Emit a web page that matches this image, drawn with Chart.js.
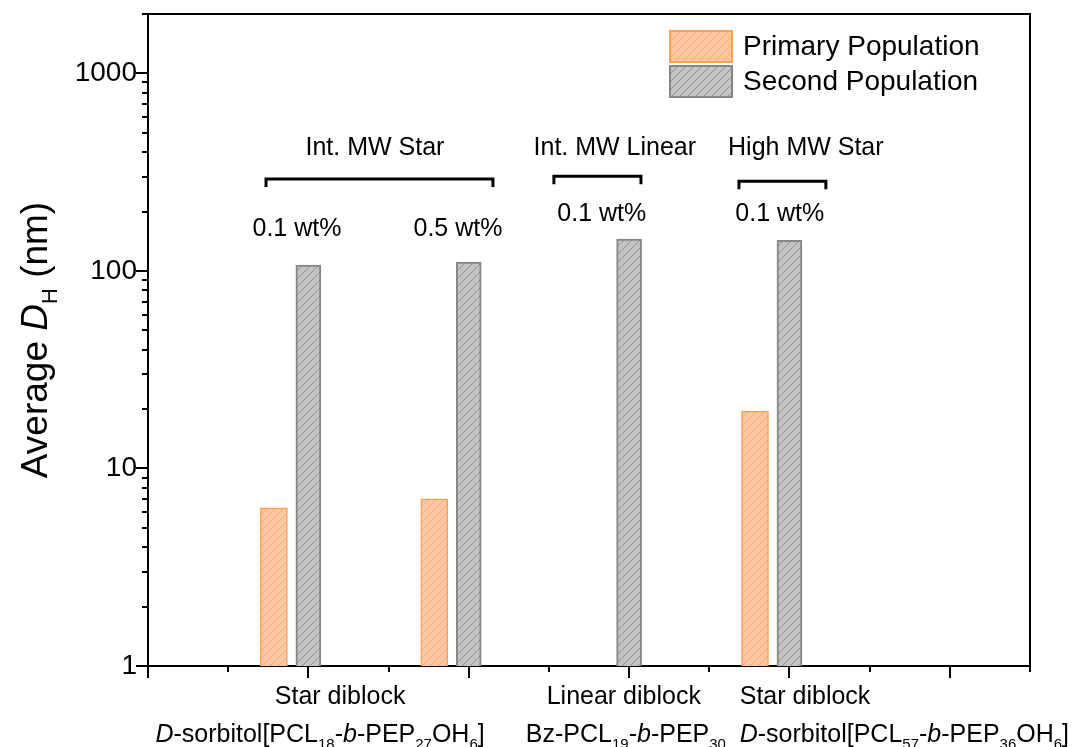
<!DOCTYPE html>
<html>
<head>
<meta charset="utf-8">
<script src="https://cdn.jsdelivr.net/npm/chart.js@4/dist/chart.umd.min.js"></script>
<style>
  html, body { margin: 0; padding: 0; background: #ffffff; }
  #wrap { width: 1073px; height: 747px; position: relative; }
</style>
</head>
<body>
<div id="wrap"><canvas id="chart" width="1073" height="747"></canvas></div>
<script>
// ---- data ----
const groupPositions = [1, 2, 3, 4];
const primaryPopulation = [6.33, 7.03, null, 19.5];
const secondPopulation = [107, 111, 145, 143];
const seriesNames = ['Primary Population', 'Second Population'];
const yMajorTicks = [1, 10, 100, 1000];
const concentrationLabels = ['0.1 wt%', '0.5 wt%', '0.1 wt%', '0.1 wt%'];
const architectureLabels = ['Int. MW Star', 'Int. MW Linear', 'High MW Star'];

// sample names: plain, italic and subscript runs
const sampleNames = [
  [[{ t: 'Star diblock' }],
   [{ t: 'D', it: true }, { t: '-sorbitol[PCL' }, { t: '18', sub: true }, { t: '-' }, { t: 'b', it: true },
    { t: '-PEP' }, { t: '27', sub: true }, { t: 'OH' }, { t: '6', sub: true }, { t: ']' }]],
  [[{ t: 'Linear diblock' }],
   [{ t: 'Bz-PCL' }, { t: '19', sub: true }, { t: '-' }, { t: 'b', it: true }, { t: '-PEP' }, { t: '30', sub: true }]],
  [[{ t: 'Star diblock' }],
   [{ t: 'D', it: true }, { t: '-sorbitol[PCL' }, { t: '57', sub: true }, { t: '-' }, { t: 'b', it: true },
    { t: '-PEP' }, { t: '36', sub: true }, { t: 'OH' }, { t: '6', sub: true }, { t: ']' }]]
];
const yTitle = [{ t: 'Average ' }, { t: 'D', it: true }, { t: 'H', sub: true }, { t: ' (nm)' }];

// ---- layout / style ----
const FONT = '"Liberation Sans", Arial, Helvetica, sans-serif';
const PRIMARY_SHIFT = -0.215;          // primary bar sits left of its group position
const X_MIN = 0, X_MAX = 5.5, Y_MIN = 1, Y_MAX = 2000;
const MAJOR_TICK = 12, MINOR_TICK = 6, AXIS_W = 2;

// annotation anchors in axis units (x) and nm (y)
const brackets = [
  { x0: 0.736, x1: 2.151, y: 292 },
  { x0: 2.531, x1: 3.074, y: 302 },
  { x0: 3.685, x1: 4.227, y: 285 }
];
const architecturePos = [{ x: 1.415, y: 421 }, { x: 2.911, y: 421 }, { x: 4.102, y: 421 }];
const concentrationPos = [{ x: 0.929, y: 162 }, { x: 1.933, y: 162 }, { x: 2.830, y: 193 }, { x: 3.940, y: 193 }];
// sample-name anchors: line 1 / line 2 x (axis units) and alignment
const samplePos = [
  { x1: 1.198, a1: 'center', x2: 1.073, a2: 'center' },
  { x1: 2.967, a1: 'center', x2: 2.98, a2: 'center' },
  { x1: 3.69, a1: 'left', x2: 3.69, a2: 'left' }
];

function hatch(bg, line) {
  const s = 8;
  const c = document.createElement('canvas');
  c.width = s; c.height = s;
  const g = c.getContext('2d');
  g.fillStyle = bg; g.fillRect(0, 0, s, s);
  g.strokeStyle = line; g.lineWidth = 1;
  g.beginPath();
  g.moveTo(-1, s + 1); g.lineTo(s + 1, -1);
  g.moveTo(-1, 1); g.lineTo(1, -1);
  g.moveTo(s - 1, s + 1); g.lineTo(s + 1, s - 1);
  g.stroke();
  return g.createPattern(c, 'repeat');
}
const primaryFill = hatch('#ffc6a4', '#f7a772');
const secondFill = hatch('#c3c3c3', '#919191');
const primaryBorder = '#ffa24c';
const secondBorder = '#868686';

const primaryPoints = groupPositions
  .map((p, i) => ({ x: p + PRIMARY_SHIFT, y: primaryPopulation[i] }))
  .filter(d => d.y !== null);
const secondPoints = groupPositions
  .map((p, i) => ({ x: p, y: secondPopulation[i] }))
  .filter(d => d.y !== null);

// ---- rich text helpers ----
function segFont(s, size) {
  const sz = s.sub ? Math.round(size * 0.6) : size;
  return (s.it ? 'italic ' : '') + sz + 'px ' + FONT;
}
function richWidth(ctx, segs, size) {
  let w = 0;
  for (const s of segs) { ctx.font = segFont(s, size); w += ctx.measureText(s.t).width; }
  return w;
}
function drawRich(ctx, segs, x, y, size, align) {
  const w = richWidth(ctx, segs, size);
  let cx = align === 'center' ? x - w / 2 : (align === 'right' ? x - w : x);
  ctx.textAlign = 'left';
  ctx.textBaseline = 'alphabetic';
  for (const s of segs) {
    ctx.font = segFont(s, size);
    ctx.fillText(s.t, cx, y + (s.sub ? size * 0.28 : 0));
    cx += ctx.measureText(s.t).width;
  }
}

const decorations = {
  id: 'decorations',
  afterDraw(chart) {
    const ctx = chart.ctx;
    const xs = chart.scales.x, ys = chart.scales.y;
    const area = chart.chartArea;
    ctx.save();
    ctx.fillStyle = '#000';
    ctx.strokeStyle = '#000';

    // frame: top and right edges
    ctx.lineWidth = AXIS_W;
    ctx.beginPath();
    ctx.moveTo(area.left - 1, area.top);
    ctx.lineTo(area.right, area.top);
    ctx.lineTo(area.right, area.bottom + 1);
    ctx.stroke();

    // tick marks (outward), major long, minor short
    ctx.lineWidth = 2;
    ctx.beginPath();
    xs.ticks.forEach(t => {
      const px = Math.round(xs.getPixelForValue(t.value));
      const len = Number.isInteger(t.value) ? MAJOR_TICK : MINOR_TICK;
      ctx.moveTo(px, area.bottom);
      ctx.lineTo(px, area.bottom + len);
    });
    ys.ticks.forEach(t => {
      const py = Math.round(ys.getPixelForValue(t.value));
      const len = yMajorTicks.includes(t.value) ? MAJOR_TICK : MINOR_TICK;
      ctx.moveTo(area.left, py);
      ctx.lineTo(area.left - len, py);
    });
    ctx.stroke();

    // group brackets
    ctx.lineWidth = 3;
    brackets.forEach(b => {
      const x0 = xs.getPixelForValue(b.x0), x1 = xs.getPixelForValue(b.x1);
      const y = ys.getPixelForValue(b.y);
      ctx.beginPath();
      ctx.moveTo(x0, y + 8); ctx.lineTo(x0, y); ctx.lineTo(x1, y); ctx.lineTo(x1, y + 8);
      ctx.stroke();
    });

    // annotation text
    ctx.textAlign = 'center';
    ctx.textBaseline = 'middle';
    ctx.font = '25px ' + FONT;
    architectureLabels.forEach((s, i) => {
      ctx.fillText(s, xs.getPixelForValue(architecturePos[i].x), ys.getPixelForValue(architecturePos[i].y));
    });
    concentrationLabels.forEach((s, i) => {
      ctx.fillText(s, xs.getPixelForValue(concentrationPos[i].x), ys.getPixelForValue(concentrationPos[i].y));
    });

    // sample names under the x axis
    sampleNames.forEach((lines, i) => {
      const p = samplePos[i];
      drawRich(ctx, lines[0], xs.getPixelForValue(p.x1), area.bottom + 38, 25, p.a1);
      drawRich(ctx, lines[1], xs.getPixelForValue(p.x2), area.bottom + 76, 25, p.a2);
    });

    // y-axis title
    ctx.save();
    ctx.translate(47, (area.top + area.bottom) / 2);
    ctx.rotate(-Math.PI / 2);
    drawRich(ctx, yTitle, 0, 0, 37, 'center');
    ctx.restore();

    // legend
    const fills = [primaryFill, secondFill];
    const borders = [primaryBorder, secondBorder];
    seriesNames.forEach((name, i) => {
      const top = 31 + i * 35;
      ctx.fillStyle = fills[i];
      ctx.fillRect(670, top, 62, 31);
      ctx.strokeStyle = borders[i];
      ctx.lineWidth = 2;
      ctx.strokeRect(670, top, 62, 31);
      ctx.fillStyle = '#000';
      ctx.font = '28px ' + FONT;
      ctx.textAlign = 'left';
      ctx.textBaseline = 'middle';
      ctx.fillText(name, 743, top + 16);
    });
    ctx.restore();
  }
};

new Chart(document.getElementById('chart'), {
  type: 'bar',
  data: {
    datasets: [
      {
        label: seriesNames[0],
        data: primaryPoints,
        backgroundColor: primaryFill,
        borderColor: primaryBorder,
        borderWidth: 1.5,
        maxBarThickness: 27
      },
      {
        label: seriesNames[1],
        data: secondPoints,
        backgroundColor: secondFill,
        borderColor: secondBorder,
        borderWidth: 2,
        maxBarThickness: 25
      }
    ]
  },
  options: {
    responsive: false,
    devicePixelRatio: 1,
    animation: false,
    grouped: false,
    barPercentage: 1,
    categoryPercentage: 1,
    layout: { padding: { top: 14, right: 43, left: 0, bottom: 0 } },
    plugins: { legend: { display: false }, tooltip: { enabled: false }, title: { display: false } },
    scales: {
      x: {
        type: 'linear',
        min: X_MIN, max: X_MAX,
        offset: false,
        grid: { display: true, drawOnChartArea: false, drawTicks: false, offset: false },
        border: { display: true, color: '#000', width: AXIS_W },
        ticks: { display: false },
        afterBuildTicks: scale => {
          const t = [];
          for (let v = X_MIN; v <= X_MAX + 1e-9; v += 0.5) t.push({ value: v });
          scale.ticks = t;
        },
        afterFit: scale => {
          scale.height = 81;
          scale.paddingLeft = 0; scale.paddingRight = 0;
        }
      },
      y: {
        type: 'logarithmic',
        min: Y_MIN, max: Y_MAX,
        grid: { display: true, drawOnChartArea: false, drawTicks: false },
        border: { display: true, color: '#000', width: AXIS_W },
        ticks: {
          autoSkip: false,
          color: '#000',
          padding: 11,
          font: { family: FONT, size: 28 },
          callback: v => (yMajorTicks.includes(v) ? String(v) : '')
        },
        afterBuildTicks: scale => {
          const t = [];
          for (let d = 1; d < Y_MAX; d *= 10) {
            for (let m = 1; m <= 9; m++) {
              const v = m * d;
              if (v <= Y_MAX) t.push({ value: v });
            }
          }
          if (!t.some(o => o.value === Y_MAX)) t.push({ value: Y_MAX });
          scale.ticks = t;
        },
        afterFit: scale => {
          scale.width = 148;
          scale.paddingTop = 0; scale.paddingBottom = 0;
        }
      }
    }
  },
  plugins: [decorations]
});
</script>
</body>
</html>
